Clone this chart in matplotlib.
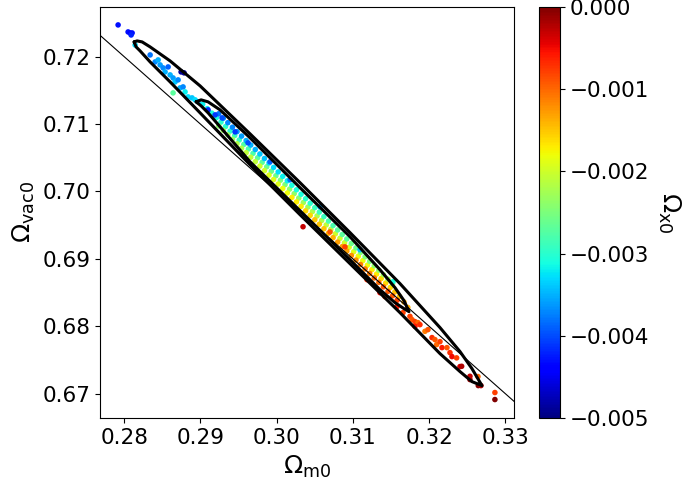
import numpy as np
import matplotlib.pyplot as plt

# ── data: MCMC samples (Omega_m0, Omega_vac0, Omega_x0) ──
# dense core of the chain, three tracks along the degeneracy direction
core_x = [0.2903, 0.2909, 0.2915, 0.2921, 0.2927, 0.2933, 0.2939, 0.2945, 0.2951, 0.2957,
          0.2963, 0.2969, 0.2975, 0.2981, 0.2987, 0.2993, 0.2999, 0.3005, 0.3011, 0.3017,
          0.3023, 0.3029, 0.3035, 0.3041, 0.3047, 0.3053, 0.3059, 0.3065, 0.3071, 0.3077,
          0.3083, 0.3089, 0.3095, 0.3101, 0.3107, 0.3113, 0.3119, 0.3125, 0.3131, 0.3137,
          0.3143, 0.3149, 0.3155, 0.3161, 0.3167, 0.3172]
core_y = [0.71294, 0.71228, 0.71162, 0.71095, 0.71029, 0.70963, 0.70896, 0.70830, 0.70764, 0.70698,
          0.70631, 0.70565, 0.70499, 0.70432, 0.70366, 0.70300, 0.70233, 0.70167, 0.70101, 0.70035,
          0.69968, 0.69902, 0.69836, 0.69769, 0.69703, 0.69637, 0.69570, 0.69504, 0.69438, 0.69372,
          0.69305, 0.69239, 0.69173, 0.69106, 0.69040, 0.68974, 0.68907, 0.68841, 0.68775, 0.68708,
          0.68642, 0.68576, 0.68510, 0.68443, 0.68360, 0.68280]
core_c = [-0.0032, -0.0032, -0.0031, -0.0031, -0.0030, -0.0030, -0.0030, -0.0029, -0.0029, -0.0028,
          -0.0028, -0.0028, -0.0027, -0.0027, -0.0026, -0.0026, -0.0026, -0.0025, -0.0025, -0.0024,
          -0.0024, -0.0024, -0.0023, -0.0023, -0.0022, -0.0022, -0.0022, -0.0021, -0.0021, -0.0020,
          -0.0020, -0.0020, -0.0019, -0.0019, -0.0018, -0.0018, -0.0018, -0.0017, -0.0017, -0.0016,
          -0.0016, -0.0016, -0.0015, -0.0015, -0.0014, -0.0014]

upper_x = [0.2924, 0.2930, 0.2936, 0.2942, 0.2948, 0.2954, 0.2960, 0.2966, 0.2972, 0.2978,
           0.2984, 0.2990, 0.2996, 0.3002, 0.3008, 0.3014, 0.3020, 0.3026, 0.3032, 0.3038,
           0.3044, 0.3050, 0.3056, 0.3062, 0.3068, 0.3074, 0.3080, 0.3086, 0.3092, 0.3098,
           0.3104, 0.3110, 0.3116, 0.3122, 0.3128, 0.3134, 0.3140, 0.3146, 0.3152]
upper_y = [0.71152, 0.71086, 0.71020, 0.70953, 0.70887, 0.70821, 0.70755, 0.70688, 0.70622, 0.70556,
           0.70489, 0.70423, 0.70357, 0.70290, 0.70224, 0.70158, 0.70092, 0.70025, 0.69959, 0.69893,
           0.69826, 0.69760, 0.69694, 0.69627, 0.69561, 0.69495, 0.69429, 0.69362, 0.69296, 0.69230,
           0.69163, 0.69097, 0.69031, 0.68964, 0.68898, 0.68832, 0.68765, 0.68699, 0.68633]
upper_c = [-0.0038, -0.0037, -0.0037, -0.0037, -0.0036, -0.0036, -0.0035, -0.0035, -0.0035, -0.0034,
           -0.0034, -0.0033, -0.0033, -0.0033, -0.0032, -0.0032, -0.0031, -0.0031, -0.0031, -0.0030,
           -0.0030, -0.0029, -0.0029, -0.0029, -0.0028, -0.0028, -0.0027, -0.0027, -0.0027, -0.0026,
           -0.0026, -0.0025, -0.0025, -0.0025, -0.0024, -0.0024, -0.0023, -0.0023, -0.0023]

lower_x = [0.2924, 0.2930, 0.2936, 0.2942, 0.2948, 0.2954, 0.2960, 0.2966, 0.2972, 0.2978,
           0.2984, 0.2990, 0.2996, 0.3002, 0.3008, 0.3014, 0.3020, 0.3026, 0.3032, 0.3038,
           0.3044, 0.3050, 0.3056, 0.3062, 0.3068, 0.3074, 0.3080, 0.3086, 0.3092, 0.3098,
           0.3104, 0.3110, 0.3116, 0.3122, 0.3128, 0.3134, 0.3140, 0.3146, 0.3152, 0.3158]
lower_y = [0.70972, 0.70906, 0.70840, 0.70773, 0.70707, 0.70641, 0.70575, 0.70508, 0.70442, 0.70376,
           0.70309, 0.70243, 0.70177, 0.70110, 0.70044, 0.69978, 0.69912, 0.69845, 0.69779, 0.69713,
           0.69646, 0.69580, 0.69514, 0.69447, 0.69381, 0.69315, 0.69249, 0.69182, 0.69116, 0.69050,
           0.68983, 0.68917, 0.68851, 0.68784, 0.68718, 0.68652, 0.68585, 0.68519, 0.68453, 0.68387]
lower_c = [-0.0024, -0.0023, -0.0023, -0.0023, -0.0022, -0.0022, -0.0021, -0.0021, -0.0021, -0.0020,
           -0.0020, -0.0019, -0.0019, -0.0019, -0.0018, -0.0018, -0.0017, -0.0017, -0.0017, -0.0016,
           -0.0016, -0.0015, -0.0015, -0.0015, -0.0014, -0.0014, -0.0013, -0.0013, -0.0013, -0.0012,
           -0.0012, -0.0011, -0.0011, -0.0011, -0.0010, -0.0010, -0.0009, -0.0009, -0.0009, -0.0008]

# sparse samples: top-left tail, upper edge, lower edge, bottom-right tail
tail_x = [0.27921, 0.28052, 0.28079, 0.28105, 0.28092, 0.28144, 0.28341, 0.28406, 0.28446, 0.28472,
          0.28511, 0.28537, 0.28577, 0.28603, 0.28642, 0.28668, 0.28708, 0.28734, 0.28773, 0.28799,
          0.28839, 0.28891, 0.28931, 0.28970, 0.28642, 0.28747, 0.28786,
          0.29101, 0.29193, 0.29284, 0.29455, 0.29625, 0.29913, 0.30176, 0.30569, 0.31093,
          0.31526, 0.30346, 0.30700, 0.30896, 0.31185, 0.31355, 0.31421, 0.31578, 0.31657,
          0.31748, 0.31775, 0.31814, 0.31853, 0.31879, 0.31814, 0.31945, 0.31984, 0.32037,
          0.32076, 0.32098, 0.32142, 0.32168, 0.32233, 0.32273, 0.32299, 0.32360, 0.32404,
          0.32426, 0.32535, 0.32535, 0.32640, 0.32644, 0.32679, 0.32862, 0.32862]
tail_y = [0.72470, 0.72366, 0.72351, 0.72351, 0.72321, 0.72173, 0.72025, 0.71921, 0.71951, 0.71877,
          0.71833, 0.71773, 0.71847, 0.71729, 0.71684, 0.71625, 0.71655, 0.71536, 0.71551, 0.71477,
          0.71403, 0.71388, 0.71359, 0.71329, 0.71462, 0.71773, 0.71759,
          0.71210, 0.71136, 0.71092, 0.70884, 0.70721, 0.70440, 0.70173, 0.69773, 0.69136,
          0.68662, 0.69477, 0.69400, 0.69178, 0.68692, 0.68499, 0.68440, 0.68292, 0.68203,
          0.68148, 0.68099, 0.68070, 0.68055, 0.68025, 0.68000, 0.67926, 0.67951, 0.67833,
          0.67803, 0.67729, 0.67773, 0.67684, 0.67684, 0.67610, 0.67551, 0.67532, 0.67403,
          0.67407, 0.67210, 0.67259, 0.67255, 0.67121, 0.67121, 0.67018, 0.66914]
tail_c = [-0.0043, -0.0043, -0.0044, -0.0043, -0.0042, -0.0033, -0.0038, -0.0037, -0.0035, -0.0036,
          -0.0037, -0.0035, -0.0039, -0.0035, -0.0036, -0.0034, -0.0037, -0.0035, -0.0037, -0.0032,
          -0.0033, -0.0034, -0.0033, -0.0034, -0.0027, -0.0049, -0.0049,
          -0.0042, -0.0041, -0.0040, -0.0041, -0.0040, -0.0039, -0.0038, -0.0036, -0.0034,
          -0.0031, -0.0003, -0.0009, -0.0008, -0.0007, -0.0005, -0.0008, -0.0006, -0.0008,
          -0.0008, -0.0009, -0.0008, -0.0010, -0.0007, -0.0006, -0.0011, -0.0009, -0.0007,
          -0.0009, -0.0010, -0.0008, -0.0006, -0.0009, -0.0007, -0.0005, -0.0008, -0.0004,
          -0.0002, -0.0001, -0.0003, -0.0010, 0.0000, -0.0002, -0.0008, 0.0000]

# confidence contours (outer and inner), vertices
outer_x = [0.28131, 0.28170, 0.28236, 0.28341, 0.28603, 0.28996, 0.29651, 0.30307, 0.30962,
           0.31617, 0.32142, 0.32404, 0.32561, 0.32692,
           0.32561, 0.32404, 0.32142, 0.31617, 0.30962, 0.30307, 0.29651,
           0.28996, 0.28603, 0.28341, 0.28210, 0.28157, 0.28131]
outer_y = [0.72218, 0.72233, 0.72218, 0.72144, 0.71936, 0.71566, 0.70855, 0.70130, 0.69390,
           0.68634, 0.67981, 0.67626, 0.67373, 0.67121,
           0.67180, 0.67329, 0.67595, 0.68203, 0.68929, 0.69655, 0.70396,
           0.71166, 0.71625, 0.71921, 0.72084, 0.72144, 0.72218]
inner_x = [0.28944, 0.29009, 0.29101, 0.29258, 0.29651, 0.30307, 0.30962, 0.31355, 0.31552,
           0.31670, 0.31735, 0.31670, 0.31552, 0.31355, 0.30962, 0.30307, 0.29651, 0.29258,
           0.29101, 0.29009, 0.28944]
inner_y = [0.71329, 0.71359, 0.71329, 0.71210, 0.70796, 0.70055, 0.69329, 0.68840, 0.68573,
           0.68381, 0.68218, 0.68262, 0.68351, 0.68543, 0.68988, 0.69714, 0.70440, 0.70959,
           0.71166, 0.71270, 0.71329]

# flat-universe reference line, Omega_m0 + Omega_vac0 = 1
flat_x = [0.27, 0.34]
flat_y = [0.73, 0.66]

# colour bar ticks
cbar_ticks = [0.0, -0.001, -0.002, -0.003, -0.004, -0.005]
cbar_labels = ["0.000", "\u22120.001", "\u22120.002", "\u22120.003", "\u22120.004", "\u22120.005"]

# ── figure ────────────────────────────────────────────────────────────────────
fig = plt.figure(figsize=(6.85, 4.94), dpi=100)
ax = fig.add_axes([0.1467, 0.1538, 0.6034, 0.8326])
cax = fig.add_axes([0.7869, 0.1538, 0.0307, 0.8326])

pts_x = core_x + upper_x + lower_x + tail_x
pts_y = core_y + upper_y + lower_y + tail_y
pts_c = core_c + upper_c + lower_c + tail_c

sc = ax.scatter(pts_x, pts_y, c=pts_c, cmap="jet", vmin=-0.005, vmax=0.0,
                s=16, linewidths=0, zorder=1)

ax.plot(flat_x, flat_y, color="black", linewidth=0.8, zorder=2)
for cx, cy in [(outer_x, outer_y), (inner_x, inner_y)]:
    ax.plot(cx, cy, color="black", linewidth=2.2, solid_joinstyle="round",
            solid_capstyle="round", zorder=3)

ax.set_xlim(0.2769, 0.3311)
ax.set_ylim(0.6664, 0.7274)
ax.set_xticks([0.28, 0.29, 0.30, 0.31, 0.32, 0.33])
ax.set_xticklabels(["0.28", "0.29", "0.30", "0.31", "0.32", "0.33"])
ax.set_yticks([0.67, 0.68, 0.69, 0.70, 0.71, 0.72])
ax.set_yticklabels(["0.67", "0.68", "0.69", "0.70", "0.71", "0.72"])
ax.tick_params(labelsize=15.5)
ax.set_xlabel(r"$\Omega_{\rm m0}$", fontsize=18)
ax.set_ylabel(r"$\Omega_{\rm vac0}$", fontsize=18)

cbar = fig.colorbar(sc, cax=cax, ticks=cbar_ticks)
cbar.ax.set_yticklabels(cbar_labels)
cbar.ax.tick_params(labelsize=15.5)
cbar.set_label(r"$\Omega_{\rm x0}$", fontsize=18, rotation=270, labelpad=24)

fig.savefig("out.png", dpi=100)
